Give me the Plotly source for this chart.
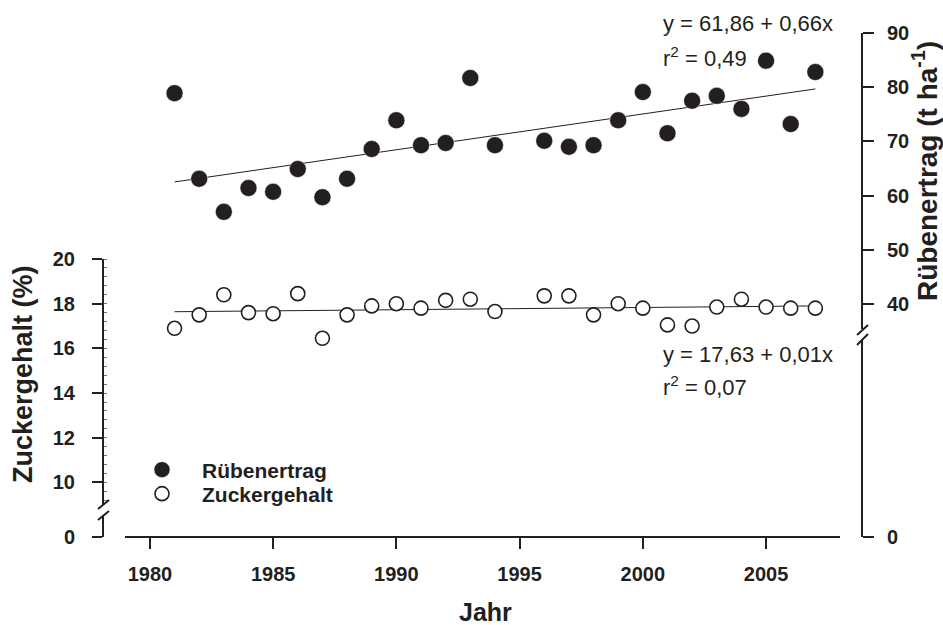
import plotly.graph_objects as go

# ---- data -------------------------------------------------------------
years = [1981, 1982, 1983, 1984, 1985, 1986, 1987, 1988, 1989, 1990,
         1991, 1992, 1993, 1994, 1996, 1997, 1998, 1999, 2000, 2001,
         2002, 2003, 2004, 2005, 2006, 2007]
ruebenertrag = [78.9, 63.1, 57.0, 61.4, 60.7, 64.9, 59.7, 63.1, 68.6, 73.9,
                69.3, 69.7, 81.7, 69.3, 70.1, 69.0, 69.3, 73.9, 79.1, 71.5,
                77.5, 78.4, 76.0, 84.9, 73.2, 82.8]
zuckergehalt = [16.9, 17.5, 18.4, 17.6, 17.55, 18.45, 16.45, 17.5, 17.9, 18.0,
                17.8, 18.15, 18.2, 17.65, 18.35, 18.35, 17.5, 18.0, 17.8, 17.05,
                17.0, 17.85, 18.2, 17.85, 17.8, 17.8]

# regression y = a + b*x, x counted in years since 1980
fit_ertrag = (61.86, 0.66, 0.49)
fit_zucker = (17.63, 0.01, 0.07)

x_ticks = [1980, 1985, 1990, 1995, 2000, 2005]
zucker_ticks = [10, 12, 14, 16, 18, 20]
ertrag_ticks = [40, 50, 60, 70, 80, 90]

# ---- page geometry ----------------------------------------------------
W, H = 943, 625
L, R, T, B = 103, 81, 33, 88
PW, PH = W - L - R, H - T - B
INK = "#231f20"
FONT = "Liberation Sans, Arial, Helvetica, sans-serif"


def px(xp):
    return (xp - L) / PW


def py(yp):
    return (H - B - yp) / PH


def de(v):
    return f"{v:.2f}".replace(".", ",")


def fit_line(fit):
    a, b, _ = fit
    xs = [years[0], years[-1]]
    return xs, [a + b * (x - 1980) for x in xs]


fig = go.Figure()

# regression lines
xs, ys = fit_line(fit_ertrag)
fig.add_trace(go.Scatter(x=xs, y=ys, mode="lines", yaxis="y2",
                         line=dict(color=INK, width=1), showlegend=False,
                         hoverinfo="skip"))
xs, ys = fit_line(fit_zucker)
fig.add_trace(go.Scatter(x=xs, y=ys, mode="lines", yaxis="y",
                         line=dict(color=INK, width=1), showlegend=False,
                         hoverinfo="skip"))

# observations
fig.add_trace(go.Scatter(x=years, y=ruebenertrag, mode="markers", yaxis="y2",
                         name="Rübenertrag", legend="legend",
                         marker=dict(symbol="circle", size=17, color=INK,
                                     line=dict(color="white", width=0.5))))
fig.add_trace(go.Scatter(x=years, y=zuckergehalt, mode="markers", yaxis="y",
                         name="Zuckergehalt", legend="legend2",
                         marker=dict(symbol="circle", size=14, color="white",
                                     line=dict(color=INK, width=1.6))))

# empty traces so the zero stubs below the axis breaks are drawn
for ax in ("y3", "y4"):
    fig.add_trace(go.Scatter(x=[], y=[], yaxis=ax, showlegend=False,
                             hoverinfo="skip"))

tickfont = dict(family=FONT, size=20, color=INK, weight="bold")
axis_common = dict(showline=True, linecolor=INK, linewidth=2, ticks="outside",
                   tickcolor=INK, tickwidth=2, showgrid=False, zeroline=False,
                   tickfont=tickfont, fixedrange=True)

legend_font = dict(family=FONT, size=21, color=INK, weight="bold")
legend_common = dict(xanchor="left", yanchor="middle", font=legend_font,
                     bgcolor="rgba(0,0,0,0)", itemwidth=70, borderwidth=0)

fig.update_layout(
    width=W, height=H,
    margin=dict(l=L, r=R, t=T, b=B),
    paper_bgcolor="white", plot_bgcolor="rgba(0,0,0,0)",
    xaxis=dict(axis_common, domain=[px(125), px(840)], range=[1978.99, 2008.0],
               tickvals=x_ticks, ticklen=11, anchor="free", position=0,
               ticklabelstandoff=8),
    # sugar content, upper part of the broken left axis
    yaxis=dict(axis_common, domain=[py(505), py(259)], range=[8.99, 20],
               tickvals=zucker_ticks, ticklen=10, anchor="free", position=0,
               side="left", ticklabelstandoff=13,
               minor=dict(ticks="inside", dtick=0.4, tick0=0, ticklen=3,
                          tickwidth=1, tickcolor="#777777")),
    # beet yield, upper part of the broken right axis
    yaxis2=dict(axis_common, domain=[py(329), py(33)], range=[35.39, 90],
                tickvals=ertrag_ticks, ticklen=11, anchor="free", position=1,
                side="right", ticklabelstandoff=9),
    # zero stubs below the breaks
    yaxis3=dict(axis_common, domain=[0, py(515)], range=[0, 1],
                tickvals=[0], ticklen=10, anchor="free", position=0,
                side="left", ticklabelstandoff=13),
    yaxis4=dict(axis_common, domain=[0, py(340)], range=[0, 1],
                tickvals=[0], ticklen=11, anchor="free", position=1,
                side="right", ticklabelstandoff=9),
    legend=dict(legend_common, x=px(122), y=py(470)),
    legend2=dict(legend_common, x=px(122), y=py(494)),
    showlegend=True,
)

# break marks on both y axes
for (x0, y0, x1, y1) in [(98, 509, 109, 500), (98, 520, 109, 511),
                         (857, 335, 868, 325), (857, 345, 868, 334)]:
    fig.add_shape(type="line", xref="paper", yref="paper",
                  x0=px(x0), y0=py(y0), x1=px(x1), y1=py(y1),
                  line=dict(color=INK, width=2))

# axis titles
title_font = dict(family=FONT, size=27, color=INK, weight="bold")
centered = dict(xref="paper", yref="paper", showarrow=False,
                xanchor="center", yanchor="middle")
fig.add_annotation(centered, text="Jahr", x=px(485), y=py(612),
                   font=dict(title_font, size=25))
fig.add_annotation(centered, text="Zuckergehalt (%)", x=px(23), y=py(374),
                   textangle=-90, font=title_font)
fig.add_annotation(centered, text="Rübenertrag (t ha<sup>-1</sup>)",
                   x=px(925), y=py(171), textangle=-90,
                   font=dict(title_font, size=28))

# regression equations
eq_font = dict(family=FONT, size=22, color=INK)
for fit, y_eq, y_r2 in [(fit_ertrag, 23, 57), (fit_zucker, 354, 386)]:
    a, b, r2 = fit
    fig.add_annotation(text=f"y = {de(a)} + {de(b)}x", xref="paper",
                       yref="paper", x=px(661), y=py(y_eq), xanchor="left",
                       yanchor="middle", showarrow=False, font=eq_font)
    fig.add_annotation(text=f"r<sup>2</sup> = {de(r2)}", xref="paper",
                       yref="paper", x=px(661), y=py(y_r2), xanchor="left",
                       yanchor="middle", showarrow=False, font=eq_font)

fig.write_html("out.html")
